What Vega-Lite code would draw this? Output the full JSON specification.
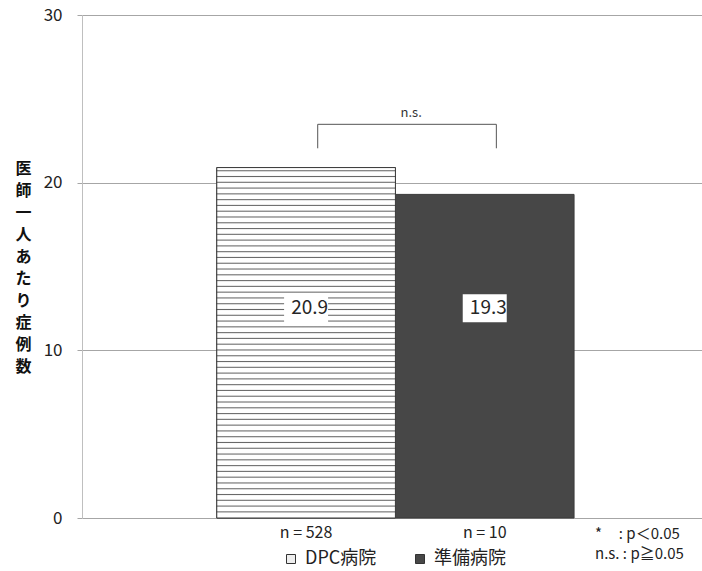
{
  "$schema": "https://vega.github.io/schema/vega-lite/v6.json",
  "width": 620,
  "height": 503,
  "autosize": {"type": "none"},
  "padding": {"left": 82, "top": 15, "right": 0, "bottom": 53},
  "background": "white",
  "title": {
    "text": ["*\u00a0\u00a0\u00a0\u00a0\u00a0: p＜0.05", "n.s. : p≧0.05"],
    "orient": "bottom",
    "anchor": "end",
    "frame": "group",
    "align": "left",
    "dx": -107,
    "dy": -41,
    "offset": 0,
    "fontSize": 15,
    "fontWeight": "normal",
    "lineHeight": 20,
    "color": "#222"
  },
  "datasets": {
    "bars": [
      {"hospital": "DPC病院", "n": "n = 528", "cases": 20.9},
      {"hospital": "準備病院", "n": "n = 10", "cases": 19.3}
    ],
    "bracket": [
      {"n": "n = 528", "y": 22.05, "o": 1},
      {"n": "n = 528", "y": 23.48, "o": 2},
      {"n": "n = 10", "y": 23.48, "o": 3},
      {"n": "n = 10", "y": 22.05, "o": 4}
    ],
    "sig": [{"n": "n = 10", "label": "n.s."}]
  },
  "layer": [
    {
      "data": {"name": "bars"},
      "mark": {"type": "bar", "stroke": "#3a3a3a", "strokeWidth": 1},
      "encoding": {
        "x": {
          "field": "n", "type": "nominal",
          "scale": {"domain": ["n = 528", "n = 10"], "paddingInner": 0, "paddingOuter": 0.7353, "align": 0.513},
          "axis": {"title": null, "domain": false, "ticks": false, "labelAngle": 0, "labelFontSize": 16, "labelPadding": 6, "labelColor": "#222", "labelDx": 5}
        },
        "y": {
          "field": "cases", "type": "quantitative",
          "scale": {"domain": [0, 30], "nice": false},
          "axis": {
            "title": ["医", "師", "一", "人", "あ", "た", "り", "症", "例", "数"],
            "titleAngle": 0, "titleAlign": "center", "titleBaseline": "top",
            "titleX": -59, "titleY": 145, "titleLineHeight": 22,
            "titleFontSize": 16, "titleFontWeight": "bold", "titleColor": "#111",
            "values": [0, 10, 20, 30],
            "domainColor": "#bfbfbf", "tickColor": "#a6a6a6", "tickSize": 5,
            "gridColor": "#a6a6a6", "grid": true,
            "labelFontSize": 17, "labelPadding": 15, "labelColor": "#222"
          }
        },
        "color": {
          "field": "hospital", "type": "nominal",
          "scale": {"domain": ["DPC病院", "準備病院"], "range": ["#eeeeee", "#474747"]},
          "legend": {
            "title": null, "orient": "none", "direction": "horizontal",
            "legendX": 200, "legendY": 535,
            "symbolType": "square", "symbolSize": 81,
            "symbolStrokeColor": "#333", "symbolStrokeWidth": 1,
            "labelFontSize": 18, "labelColor": "#222", "labelOffset": 5,
            "columnPadding": 34
          }
        }
      }
    },
    {
      "data": {"name": "bars"},
      "transform": [{"filter": "datum.hospital === 'DPC病院'"}],
      "mark": {
        "type": "bar", "stroke": "#3a3a3a", "strokeWidth": 1,
        "fill": {
          "gradient": "linear", "x1": 0, "y1": 0, "x2": 0, "y2": 1,
          "stops": [
            {"offset": 0, "color": "#ffffff"},
            {"offset": 0.006, "color": "#ffffff"}, {"offset": 0.009, "color": "#666666"}, {"offset": 0.012, "color": "#ffffff"},
            {"offset": 0.0225, "color": "#ffffff"}, {"offset": 0.0255, "color": "#666666"}, {"offset": 0.0285, "color": "#ffffff"},
            {"offset": 0.039, "color": "#ffffff"}, {"offset": 0.042, "color": "#666666"}, {"offset": 0.045, "color": "#ffffff"},
            {"offset": 0.0555, "color": "#ffffff"}, {"offset": 0.0585, "color": "#666666"}, {"offset": 0.0615, "color": "#ffffff"},
            {"offset": 0.072, "color": "#ffffff"}, {"offset": 0.075, "color": "#666666"}, {"offset": 0.078, "color": "#ffffff"},
            {"offset": 0.0885, "color": "#ffffff"}, {"offset": 0.0915, "color": "#666666"}, {"offset": 0.0945, "color": "#ffffff"},
            {"offset": 0.105, "color": "#ffffff"}, {"offset": 0.108, "color": "#666666"}, {"offset": 0.111, "color": "#ffffff"},
            {"offset": 0.1215, "color": "#ffffff"}, {"offset": 0.1245, "color": "#666666"}, {"offset": 0.1275, "color": "#ffffff"},
            {"offset": 0.138, "color": "#ffffff"}, {"offset": 0.141, "color": "#666666"}, {"offset": 0.144, "color": "#ffffff"},
            {"offset": 0.1545, "color": "#ffffff"}, {"offset": 0.1575, "color": "#666666"}, {"offset": 0.1605, "color": "#ffffff"},
            {"offset": 0.171, "color": "#ffffff"}, {"offset": 0.174, "color": "#666666"}, {"offset": 0.177, "color": "#ffffff"},
            {"offset": 0.1875, "color": "#ffffff"}, {"offset": 0.1905, "color": "#666666"}, {"offset": 0.1935, "color": "#ffffff"},
            {"offset": 0.204, "color": "#ffffff"}, {"offset": 0.207, "color": "#666666"}, {"offset": 0.21, "color": "#ffffff"},
            {"offset": 0.2205, "color": "#ffffff"}, {"offset": 0.2235, "color": "#666666"}, {"offset": 0.2265, "color": "#ffffff"},
            {"offset": 0.237, "color": "#ffffff"}, {"offset": 0.24, "color": "#666666"}, {"offset": 0.243, "color": "#ffffff"},
            {"offset": 0.2535, "color": "#ffffff"}, {"offset": 0.2565, "color": "#666666"}, {"offset": 0.2595, "color": "#ffffff"},
            {"offset": 0.27, "color": "#ffffff"}, {"offset": 0.273, "color": "#666666"}, {"offset": 0.276, "color": "#ffffff"},
            {"offset": 0.2865, "color": "#ffffff"}, {"offset": 0.2895, "color": "#666666"}, {"offset": 0.2925, "color": "#ffffff"},
            {"offset": 0.303, "color": "#ffffff"}, {"offset": 0.306, "color": "#666666"}, {"offset": 0.309, "color": "#ffffff"},
            {"offset": 0.3195, "color": "#ffffff"}, {"offset": 0.3225, "color": "#666666"}, {"offset": 0.3255, "color": "#ffffff"},
            {"offset": 0.336, "color": "#ffffff"}, {"offset": 0.339, "color": "#666666"}, {"offset": 0.342, "color": "#ffffff"},
            {"offset": 0.3525, "color": "#ffffff"}, {"offset": 0.3555, "color": "#666666"}, {"offset": 0.3585, "color": "#ffffff"},
            {"offset": 0.369, "color": "#ffffff"}, {"offset": 0.372, "color": "#666666"}, {"offset": 0.375, "color": "#ffffff"},
            {"offset": 0.3855, "color": "#ffffff"}, {"offset": 0.3885, "color": "#666666"}, {"offset": 0.3915, "color": "#ffffff"},
            {"offset": 0.402, "color": "#ffffff"}, {"offset": 0.405, "color": "#666666"}, {"offset": 0.408, "color": "#ffffff"},
            {"offset": 0.4185, "color": "#ffffff"}, {"offset": 0.4215, "color": "#666666"}, {"offset": 0.4245, "color": "#ffffff"},
            {"offset": 0.435, "color": "#ffffff"}, {"offset": 0.438, "color": "#666666"}, {"offset": 0.441, "color": "#ffffff"},
            {"offset": 0.4515, "color": "#ffffff"}, {"offset": 0.4545, "color": "#666666"}, {"offset": 0.4575, "color": "#ffffff"},
            {"offset": 0.468, "color": "#ffffff"}, {"offset": 0.471, "color": "#666666"}, {"offset": 0.474, "color": "#ffffff"},
            {"offset": 0.4845, "color": "#ffffff"}, {"offset": 0.4875, "color": "#666666"}, {"offset": 0.4905, "color": "#ffffff"},
            {"offset": 0.501, "color": "#ffffff"}, {"offset": 0.504, "color": "#666666"}, {"offset": 0.507, "color": "#ffffff"},
            {"offset": 0.5175, "color": "#ffffff"}, {"offset": 0.5205, "color": "#666666"}, {"offset": 0.5235, "color": "#ffffff"},
            {"offset": 0.534, "color": "#ffffff"}, {"offset": 0.537, "color": "#666666"}, {"offset": 0.54, "color": "#ffffff"},
            {"offset": 0.5505, "color": "#ffffff"}, {"offset": 0.5535, "color": "#666666"}, {"offset": 0.5565, "color": "#ffffff"},
            {"offset": 0.567, "color": "#ffffff"}, {"offset": 0.57, "color": "#666666"}, {"offset": 0.573, "color": "#ffffff"},
            {"offset": 0.5835, "color": "#ffffff"}, {"offset": 0.5865, "color": "#666666"}, {"offset": 0.5895, "color": "#ffffff"},
            {"offset": 0.6, "color": "#ffffff"}, {"offset": 0.603, "color": "#666666"}, {"offset": 0.606, "color": "#ffffff"},
            {"offset": 0.6165, "color": "#ffffff"}, {"offset": 0.6195, "color": "#666666"}, {"offset": 0.6225, "color": "#ffffff"},
            {"offset": 0.633, "color": "#ffffff"}, {"offset": 0.636, "color": "#666666"}, {"offset": 0.639, "color": "#ffffff"},
            {"offset": 0.6495, "color": "#ffffff"}, {"offset": 0.6525, "color": "#666666"}, {"offset": 0.6555, "color": "#ffffff"},
            {"offset": 0.666, "color": "#ffffff"}, {"offset": 0.669, "color": "#666666"}, {"offset": 0.672, "color": "#ffffff"},
            {"offset": 0.6825, "color": "#ffffff"}, {"offset": 0.6855, "color": "#666666"}, {"offset": 0.6885, "color": "#ffffff"},
            {"offset": 0.699, "color": "#ffffff"}, {"offset": 0.702, "color": "#666666"}, {"offset": 0.705, "color": "#ffffff"},
            {"offset": 0.7155, "color": "#ffffff"}, {"offset": 0.7185, "color": "#666666"}, {"offset": 0.7215, "color": "#ffffff"},
            {"offset": 0.732, "color": "#ffffff"}, {"offset": 0.735, "color": "#666666"}, {"offset": 0.738, "color": "#ffffff"},
            {"offset": 0.7485, "color": "#ffffff"}, {"offset": 0.7515, "color": "#666666"}, {"offset": 0.7545, "color": "#ffffff"},
            {"offset": 0.765, "color": "#ffffff"}, {"offset": 0.768, "color": "#666666"}, {"offset": 0.771, "color": "#ffffff"},
            {"offset": 0.7815, "color": "#ffffff"}, {"offset": 0.7845, "color": "#666666"}, {"offset": 0.7875, "color": "#ffffff"},
            {"offset": 0.798, "color": "#ffffff"}, {"offset": 0.801, "color": "#666666"}, {"offset": 0.804, "color": "#ffffff"},
            {"offset": 0.8145, "color": "#ffffff"}, {"offset": 0.8175, "color": "#666666"}, {"offset": 0.8205, "color": "#ffffff"},
            {"offset": 0.831, "color": "#ffffff"}, {"offset": 0.834, "color": "#666666"}, {"offset": 0.837, "color": "#ffffff"},
            {"offset": 0.8475, "color": "#ffffff"}, {"offset": 0.8505, "color": "#666666"}, {"offset": 0.8535, "color": "#ffffff"},
            {"offset": 0.864, "color": "#ffffff"}, {"offset": 0.867, "color": "#666666"}, {"offset": 0.87, "color": "#ffffff"},
            {"offset": 0.8805, "color": "#ffffff"}, {"offset": 0.8835, "color": "#666666"}, {"offset": 0.8865, "color": "#ffffff"},
            {"offset": 0.897, "color": "#ffffff"}, {"offset": 0.9, "color": "#666666"}, {"offset": 0.903, "color": "#ffffff"},
            {"offset": 0.9135, "color": "#ffffff"}, {"offset": 0.9165, "color": "#666666"}, {"offset": 0.9195, "color": "#ffffff"},
            {"offset": 0.93, "color": "#ffffff"}, {"offset": 0.933, "color": "#666666"}, {"offset": 0.936, "color": "#ffffff"},
            {"offset": 0.9465, "color": "#ffffff"}, {"offset": 0.9495, "color": "#666666"}, {"offset": 0.9525, "color": "#ffffff"},
            {"offset": 0.963, "color": "#ffffff"}, {"offset": 0.966, "color": "#666666"}, {"offset": 0.969, "color": "#ffffff"},
            {"offset": 0.9795, "color": "#ffffff"}, {"offset": 0.9825, "color": "#666666"}, {"offset": 0.9855, "color": "#ffffff"},
            {"offset": 1, "color": "#ffffff"}
          ]
        }
      },
      "encoding": {
        "x": {"field": "n", "type": "nominal"},
        "y": {"field": "cases", "type": "quantitative"}
      }
    },
    {
      "data": {"name": "bars"},
      "mark": {"type": "bar", "width": 44, "fill": "white", "stroke": null},
      "encoding": {
        "x": {"field": "n", "type": "nominal"},
        "y": {"datum": 11.68, "type": "quantitative"},
        "y2": {"datum": 13.35}
      }
    },
    {
      "data": {"name": "bars"},
      "mark": {"type": "text", "fontSize": 19, "color": "#262626", "baseline": "middle", "align": "center"},
      "encoding": {
        "x": {"field": "n", "type": "nominal", "bandPosition": 0.52},
        "y": {"datum": 12.5, "type": "quantitative"},
        "text": {"field": "cases", "type": "quantitative", "format": ".1f"}
      }
    },
    {
      "data": {"name": "bracket"},
      "mark": {"type": "line", "color": "#555", "strokeWidth": 1},
      "encoding": {
        "x": {"field": "n", "type": "nominal", "bandPosition": 0.565},
        "y": {"field": "y", "type": "quantitative"},
        "order": {"field": "o", "type": "quantitative"}
      }
    },
    {
      "data": {"name": "sig"},
      "mark": {"type": "text", "fontSize": 13, "color": "#333", "baseline": "middle", "align": "center"},
      "encoding": {
        "x": {"field": "n", "type": "nominal", "bandPosition": 0.088},
        "y": {"datum": 24.15, "type": "quantitative"},
        "text": {"field": "label", "type": "nominal"}
      }
    }
  ],
  "config": {
    "font": "Noto Sans CJK JP",
    "view": {"stroke": null}
  }
}
